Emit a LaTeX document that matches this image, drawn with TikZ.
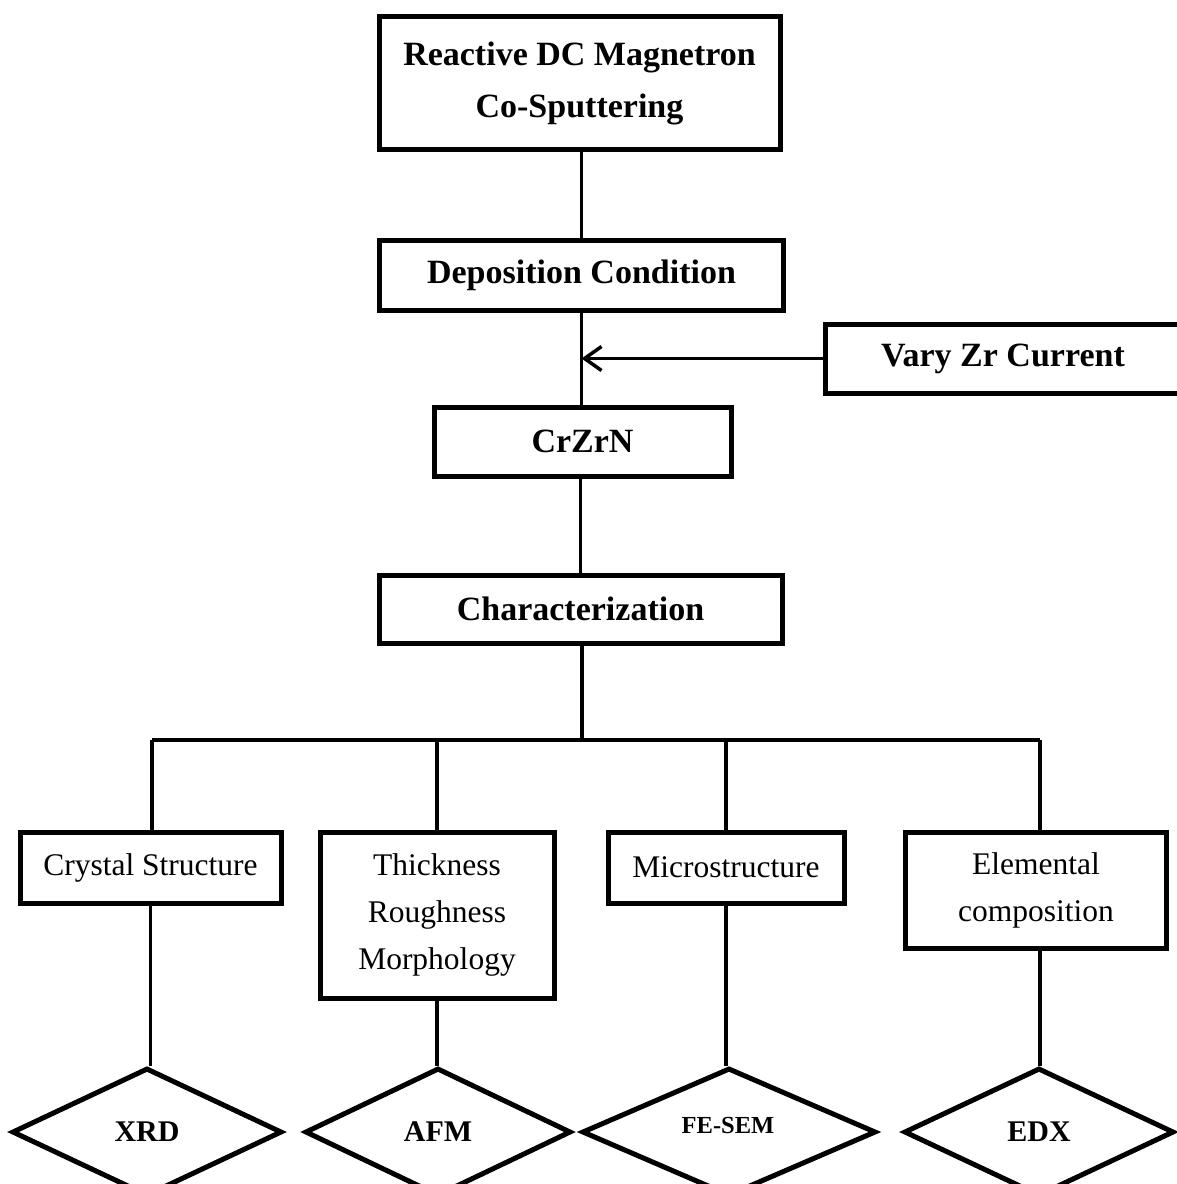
\documentclass[tikz,border=0pt]{standalone}
\usepackage{fontspec}
\setmainfont{Liberation Serif}
\usetikzlibrary{shapes.geometric,arrows.meta}
\begin{document}
\begin{tikzpicture}[x=1pt,y=-1pt,
  box/.style={draw,line width=5pt,rectangle,inner sep=0pt,align=center},
  hdr/.style={box,font=\fontsize{34}{52}\selectfont\bfseries},
  sub/.style={box,font=\fontsize{31.5}{47}\selectfont},
  tech/.style={draw,line width=5pt,diamond,inner sep=0pt,font=\fontsize{30}{34}\selectfont\bfseries},
  link/.style={line width=3.5pt}]
\useasboundingbox (0,0) rectangle (1176,1184);

% process chain
\node[hdr,minimum width=401pt,minimum height=133pt] (sput) at (579.5,83) {Reactive DC Magnetron\\Co-Sputtering};
\node[hdr,minimum width=404pt,minimum height=70pt] (dep) at (581.5,275) {Deposition Condition};
\node[hdr,minimum width=356pt,minimum height=69pt] (vary) at (1003,358.5) {Vary Zr Current};
\node[hdr,minimum width=297pt,minimum height=69pt] (crzrn) at (582.5,441.5) {CrZrN};
\node[hdr,minimum width=403pt,minimum height=68pt] (char) at (580.5,609) {Characterization};

\draw[link] (sput.south -| dep.south) -- (dep.north);
\draw[link] (dep.south) -- (dep.south |- crzrn.north);
\draw[link,-{Straight Barb[length=17pt,width=24pt,line width=3.5pt]}] (vary.west) -- (vary.west -| dep.south);
\draw[link] (crzrn.south -| char.north) -- (char.north);

% characterization branches
\node[sub,minimum width=261pt,minimum height=71pt] (cryst) at (150.5,867.5) {Crystal Structure};
\node[sub,minimum width=234pt,minimum height=166pt] (thick) at (437,915) {Thickness\\Roughness\\Morphology};
\node[sub,minimum width=236pt,minimum height=71pt] (micro) at (726,867.5) {Microstructure};
\node[sub,minimum width=261pt,minimum height=116pt] (elem) at (1036,890) {Elemental\\composition};

\coordinate (bus) at (582,740);
\coordinate (busL) at (152,740);
\coordinate (busR) at (1040,740);
\draw[link] (char.south -| bus) -- (bus);
\draw[link] (busL) -- (busR);
\draw[link] (busL) -- (busL |- cryst.north);
\draw[link] (thick.north |- bus) -- (thick.north);
\draw[link] (micro.north |- bus) -- (micro.north);
\draw[link] (busR) -- (busR |- elem.north);

% techniques
\node[tech,minimum width=270pt,minimum height=128pt] (xrd) at (147,1132) {XRD};
\node[tech,minimum width=266pt,minimum height=128pt] (afm) at (438,1132) {AFM};
\node[tech,minimum width=294pt,minimum height=128pt] (sem) at (729,1132) {};
\node[font=\fontsize{24.5}{28}\selectfont\bfseries] (semlbl) at (728,1125) {FE-SEM};
\node[tech,minimum width=270pt,minimum height=128pt] (edx) at (1039,1132) {EDX};

\draw[link] (cryst.south) -- (cryst.south |- xrd.north);
\draw[link] (thick.south) -- (thick.south |- afm.north);
\draw[link] (micro.south) -- (micro.south |- sem.north);
\draw[link] (elem.south -| busR) -- (busR |- edx.north);
\end{tikzpicture}
\end{document}
